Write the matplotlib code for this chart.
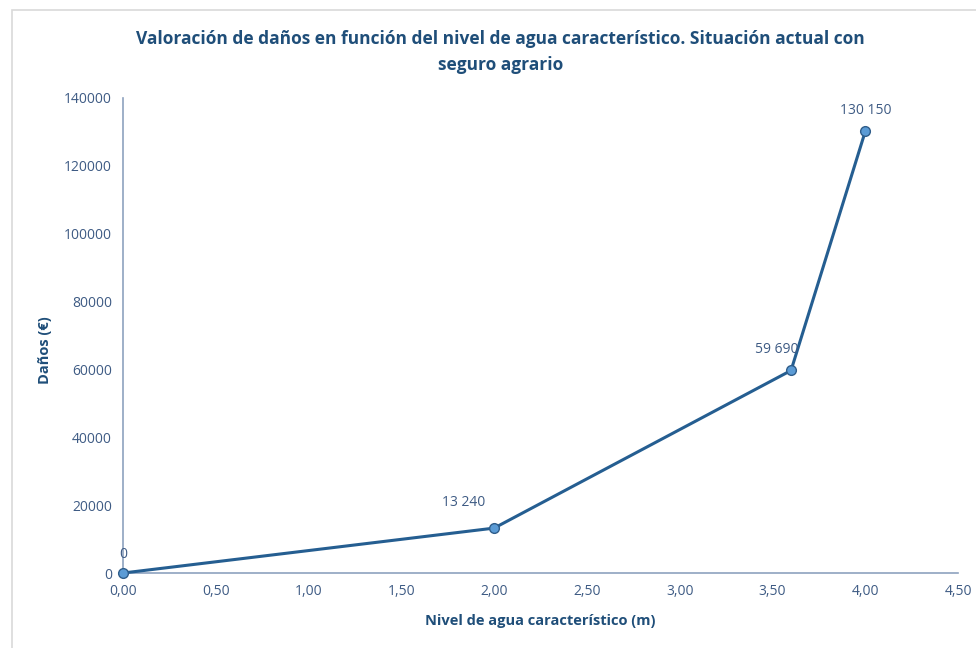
import matplotlib.pyplot as plt
from matplotlib.patches import Rectangle
from matplotlib.ticker import FuncFormatter, MultipleLocator

# Datos de daños frente al nivel de agua
nivel = [0.0, 2.0, 3.6, 4.0]
danos = [0, 13240, 59690, 130150]
# desplazamiento de cada etiqueta (puntos)
offsets = [(0, 8), (-22, 13), (-10, 10), (0, 10)]

azul_texto = '#1F4E79'
azul_ticks = '#3E5B84'

plt.rcParams['font.family'] = ['Open Sans', 'DejaVu Sans']

fig = plt.figure(figsize=(9.76, 6.48), dpi=100)
ax = fig.add_axes([0.126, 0.1157, 0.8556, 0.7331])

# marco del gráfico
fig.patches.append(Rectangle((12 / 976, -0.05), 1.1, 1 - 10 / 648 + 0.05,
                             transform=fig.transFigure, fill=False,
                             edgecolor='#D9D9D9', linewidth=1.2))

ax.plot(nivel, danos, color='#255E91', linewidth=2.2, marker='o',
        markersize=7, markerfacecolor='#5B9BD5', markeredgecolor='#2F5D8A',
        markeredgewidth=1, clip_on=False, zorder=3)

for x, y, off in zip(nivel, danos, offsets):
    ax.annotate(f"{y:,}".replace(",", " "), (x, y), xytext=off,
                textcoords='offset points', ha='center', va='bottom',
                fontsize=10, color=azul_ticks)

ax.set_xlim(0, 4.5)
ax.set_ylim(0, 140000)
ax.xaxis.set_major_locator(MultipleLocator(0.5))
ax.yaxis.set_major_locator(MultipleLocator(20000))
ax.xaxis.set_major_formatter(FuncFormatter(lambda v, p: f"{v:.2f}".replace(".", ",")))
ax.yaxis.set_major_formatter(FuncFormatter(lambda v, p: f"{int(v)}"))
ax.tick_params(axis='both', length=0, labelsize=10, labelcolor=azul_ticks, pad=8)

for s in ['top', 'right']:
    ax.spines[s].set_visible(False)
for s in ['left', 'bottom']:
    ax.spines[s].set_color('#8EA2BF')
    ax.spines[s].set_linewidth(1.2)

ax.set_xlabel('Nivel de agua característico (m)', fontsize=10.5, fontweight='bold',
              color=azul_texto, labelpad=11)
ax.set_ylabel('Daños (€)', fontsize=10.5, fontweight='bold', color=azul_texto,
              labelpad=17)
ax.yaxis.set_label_coords(-0.085, 0.47)

fig.text(0.513, 0.92, 'Valoración de daños en función del nivel de agua característico. Situación actual con\nseguro agrario',
         ha='center', va='center', fontsize=12.5, fontweight='bold',
         color=azul_texto, linespacing=1.55)

fig.savefig('out.png', dpi=100)
